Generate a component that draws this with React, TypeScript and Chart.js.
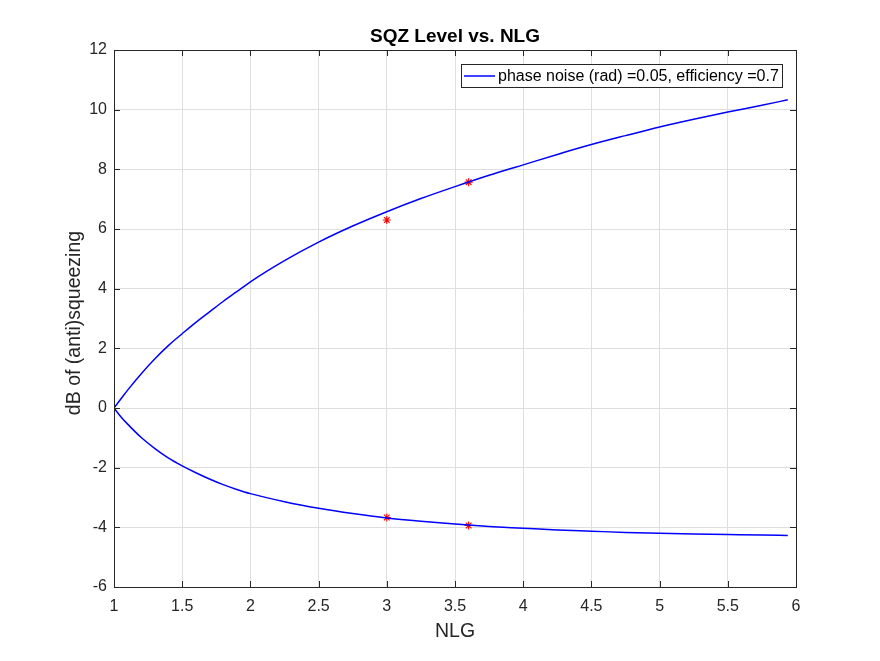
import React, { useEffect, useRef } from "react";
import { Chart, registerables } from "chart.js";

Chart.register(...registerables);

// NLG samples
const nlg = [1, 1.05, 1.1, 1.2, 1.3, 1.4, 1.5, 1.6, 1.7, 1.8, 1.9, 2, 2.25, 2.5, 2.75, 3, 3.25, 3.5, 3.75, 4, 4.25, 4.5, 4.75, 5, 5.25, 5.5, 5.75, 5.94];
const antiSqz = [0, 0.3, 0.6, 1.15, 1.65, 2.1, 2.49, 2.87, 3.22, 3.57, 3.9, 4.23, 4.94, 5.56, 6.1, 6.58, 7.02, 7.42, 7.8, 8.15, 8.5, 8.83, 9.13, 9.42, 9.68, 9.92, 10.15, 10.33];
const sqz = [0, -0.29, -0.54, -0.99, -1.36, -1.68, -1.94, -2.17, -2.38, -2.57, -2.73, -2.87, -3.14, -3.36, -3.54, -3.69, -3.8, -3.89, -3.97, -4.03, -4.09, -4.13, -4.17, -4.2, -4.22, -4.24, -4.26, -4.27];

// measured points (red asterisks)
const measNlg = [3, 3.6, 3, 3.6];
const measDb = [6.3, 7.57, -3.67, -3.94];

const xTicks = [1, 1.5, 2, 2.5, 3, 3.5, 4, 4.5, 5, 5.5, 6];
const yTicks = [-6, -4, -2, 0, 2, 4, 6, 8, 10, 12];

const legendText = "phase noise (rad) =0.05, efficiency =0.7";
const FONT = '"Liberation Sans", Arial, Helvetica, sans-serif';
const AXIS = "#262626";

const decor = {
  id: "matlabDecor",
  afterDraw(chart: any) {
    const { ctx, chartArea: a, scales } = chart;
    const xs = scales.x;
    const ys = scales.y;
    ctx.save();

    // axes box with inward ticks
    ctx.strokeStyle = AXIS;
    ctx.lineWidth = 1;
    ctx.strokeRect(Math.round(a.left) + 0.5, Math.round(a.top) + 0.5, Math.round(a.right - a.left), Math.round(a.bottom - a.top));
    ctx.beginPath();
    xTicks.forEach((v) => {
      const px = Math.round(xs.getPixelForValue(v)) + 0.5;
      ctx.moveTo(px, a.bottom);
      ctx.lineTo(px, a.bottom - 6);
      ctx.moveTo(px, a.top);
      ctx.lineTo(px, a.top + 6);
    });
    yTicks.forEach((v) => {
      const py = Math.round(ys.getPixelForValue(v)) + 0.5;
      ctx.moveTo(a.left, py);
      ctx.lineTo(a.left + 6, py);
      ctx.moveTo(a.right, py);
      ctx.lineTo(a.right - 6, py);
    });
    ctx.stroke();

    // title
    const cx = (a.left + a.right) / 2;
    ctx.fillStyle = "#000";
    ctx.textAlign = "center";
    ctx.textBaseline = "alphabetic";
    ctx.font = `bold 19px ${FONT}`;
    ctx.fillText("SQZ Level vs. NLG", cx, 42);

    // axis labels
    ctx.fillStyle = AXIS;
    ctx.font = `19.5px ${FONT}`;
    ctx.fillText("NLG", cx, 637);
    ctx.save();
    ctx.translate(80, 323);
    ctx.rotate(-Math.PI / 2);
    ctx.fillText("dB of (anti)squeezing", 0, 0);
    ctx.restore();

    // legend box
    const lx = 461, ly = 64, lw = 321, lh = 23;
    ctx.fillStyle = "#fff";
    ctx.fillRect(lx, ly, lw, lh);
    ctx.strokeStyle = AXIS;
    ctx.strokeRect(lx + 0.5, ly + 0.5, lw, lh);
    ctx.strokeStyle = "#0000ff";
    ctx.lineWidth = 1.5;
    ctx.beginPath();
    ctx.moveTo(464, ly + lh / 2 + 0.5);
    ctx.lineTo(495, ly + lh / 2 + 0.5);
    ctx.stroke();
    ctx.fillStyle = "#000";
    ctx.font = `16px ${FONT}`;
    ctx.textAlign = "left";
    ctx.textBaseline = "middle";
    ctx.fillText(legendText, 498, ly + lh / 2 + 1);

    ctx.restore();
  },
};

const App: React.FC = () => {
  const canvasRef = useRef<HTMLCanvasElement | null>(null);

  useEffect(() => {
    const ctx = canvasRef.current?.getContext("2d");
    if (!ctx) return;

    const chart = new Chart(ctx, {
      type: "scatter",
      data: {
        datasets: [
          {
            label: "anti-squeezing",
            data: nlg.map((x, i) => ({ x, y: antiSqz[i] })),
            showLine: true,
            borderColor: "#0000ff",
            borderWidth: 1.5,
            pointRadius: 0,
            cubicInterpolationMode: "monotone",
          },
          {
            label: "squeezing",
            data: nlg.map((x, i) => ({ x, y: sqz[i] })),
            showLine: true,
            borderColor: "#0000ff",
            borderWidth: 1.5,
            pointRadius: 0,
            cubicInterpolationMode: "monotone",
          },
          {
            label: "measured",
            data: measNlg.map((x, i) => ({ x, y: measDb[i] })),
            showLine: false,
            pointStyle: "star",
            pointRadius: 4,
            borderColor: "#ff0000",
            backgroundColor: "#ff0000",
            borderWidth: 1.1,
          },
        ],
      },
      options: {
        animation: false,
        responsive: false,
        devicePixelRatio: 1,
        layout: { padding: { top: 50, right: 84, left: 0, bottom: 0 } },
        plugins: {
          legend: { display: false },
          tooltip: { enabled: false },
          title: { display: false },
        },
        scales: {
          x: {
            type: "linear",
            min: 1,
            max: 6,
            afterBuildTicks: (s: any) => {
              s.ticks = xTicks.map((v) => ({ value: v }));
            },
            ticks: {
              color: AXIS,
              font: { family: FONT, size: 16 },
              padding: 10,
              maxRotation: 0,
              callback: (v: any) => String(v),
            },
            grid: { color: "#dfdfdf", drawTicks: false },
            border: { display: false },
            afterFit: (s: any) => {
              s.height = 74;
            },
          },
          y: {
            min: -6,
            max: 12,
            afterBuildTicks: (s: any) => {
              s.ticks = yTicks.map((v) => ({ value: v }));
            },
            ticks: {
              color: AXIS,
              font: { family: FONT, size: 16 },
              padding: 7,
              callback: (v: any) => String(v),
            },
            grid: { color: "#dfdfdf", drawTicks: false },
            border: { display: false },
            afterFit: (s: any) => {
              s.width = 114;
            },
          },
        },
      },
      plugins: [decor],
    });

    return () => chart.destroy();
  }, []);

  return (
    <div style={{ position: "absolute", left: 0, top: 0, width: 880, height: 661, background: "#fff" }}>
      <canvas ref={canvasRef} width={880} height={661} />
    </div>
  );
};

export default App;
